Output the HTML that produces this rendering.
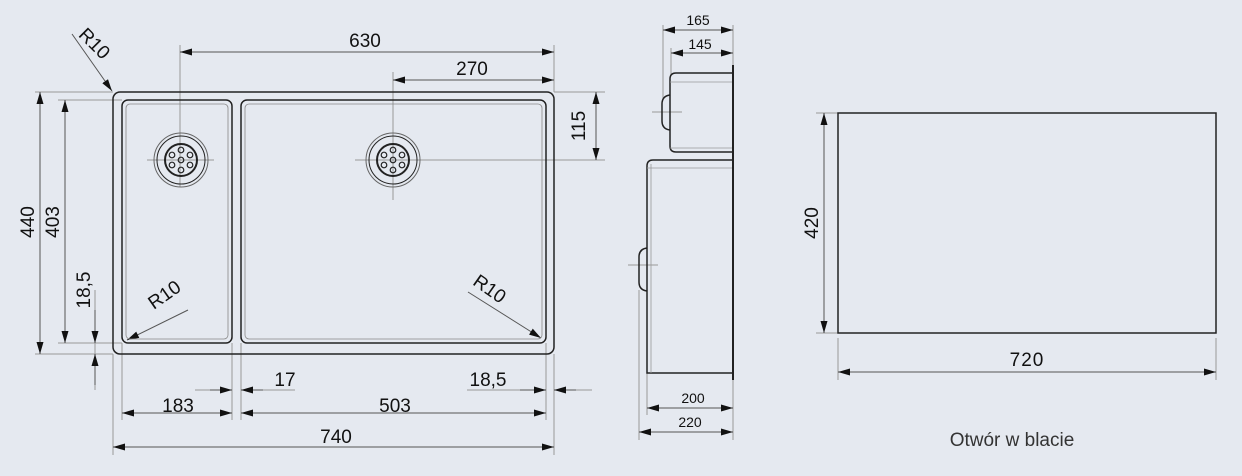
<!DOCTYPE html>
<html><head><meta charset="utf-8"><style>
html,body{margin:0;padding:0;background:#e5e9f0;}
svg{display:block}
text{font-family:"Liberation Sans",sans-serif;fill:#111;}
</style></head><body>
<svg width="1242" height="476" viewBox="0 0 1242 476" xmlns="http://www.w3.org/2000/svg">
<defs>
<marker id="a" viewBox="0 0 12 7" refX="12" refY="3.5" markerWidth="12" markerHeight="7" orient="auto-start-reverse" markerUnits="userSpaceOnUse"><path d="M0,0L12,3.5L0,7z" fill="#111"/></marker>
</defs>
<rect width="1242" height="476" fill="#e5e9f0"/>
<g stroke="#999" stroke-width="1" fill="none">
<line x1="180" y1="45" x2="180" y2="187"/>
<line x1="393" y1="72" x2="393" y2="200"/>
<line x1="355" y1="160" x2="605" y2="160"/>
<line x1="147" y1="160" x2="214" y2="160"/>
<line x1="554" y1="92" x2="605" y2="92"/>
<line x1="554" y1="45" x2="554" y2="92"/>
<line x1="35" y1="92" x2="113" y2="92"/>
<line x1="58" y1="100" x2="122" y2="100"/>
<line x1="58" y1="343" x2="122" y2="343"/>
<line x1="35" y1="354" x2="113" y2="354"/>
<line x1="95" y1="290" x2="95" y2="390"/>
<line x1="113" y1="354" x2="113" y2="455"/>
<line x1="122" y1="343" x2="122" y2="420"/>
<line x1="232" y1="343" x2="232" y2="420"/>
<line x1="241" y1="343" x2="241" y2="420"/>
<line x1="546" y1="343" x2="546" y2="420"/>
<line x1="554" y1="354" x2="554" y2="455"/>
<line x1="195" y1="390" x2="232" y2="390"/>
<line x1="241" y1="390" x2="295" y2="390"/>
<line x1="467" y1="390" x2="546" y2="390"/>
<line x1="554" y1="390" x2="592" y2="390"/>
<line x1="663" y1="25" x2="663" y2="100"/>
<line x1="671" y1="48" x2="671" y2="75"/>
<line x1="733" y1="25" x2="733" y2="65"/>
<line x1="647" y1="373" x2="647" y2="415"/>
<line x1="639" y1="290" x2="639" y2="440"/>
<line x1="733" y1="380" x2="733" y2="440"/>
<line x1="652" y1="112" x2="682" y2="112"/>
<line x1="628" y1="265" x2="658" y2="265"/>
<line x1="816" y1="113" x2="838" y2="113"/>
<line x1="816" y1="333" x2="838" y2="333"/>
<line x1="838" y1="338" x2="838" y2="380"/>
<line x1="1216" y1="338" x2="1216" y2="380"/>
</g>
<g stroke="#555" stroke-width="1" fill="none" marker-start="url(#a)" marker-end="url(#a)">
<line x1="180" y1="52" x2="554" y2="52"/>
<line x1="393" y1="80" x2="554" y2="80"/>
<line x1="596" y1="92" x2="596" y2="160"/>
<line x1="40" y1="92" x2="40" y2="354"/>
<line x1="65" y1="100" x2="65" y2="343"/>
<line x1="122" y1="413" x2="232" y2="413"/>
<line x1="241" y1="413" x2="546" y2="413"/>
<line x1="113" y1="447" x2="554" y2="447"/>
<line x1="663" y1="30" x2="733" y2="30"/>
<line x1="671" y1="53" x2="733" y2="53"/>
<line x1="647" y1="408" x2="733" y2="408"/>
<line x1="639" y1="432" x2="733" y2="432"/>
<line x1="824" y1="113" x2="824" y2="333"/>
<line x1="838" y1="372" x2="1216" y2="372"/>
</g>
<g stroke="#555" stroke-width="1" fill="none" marker-end="url(#a)">
<line x1="95" y1="310" x2="95" y2="343"/>
<line x1="95" y1="385" x2="95" y2="354"/>
<line x1="210" y1="390" x2="232" y2="390"/>
<line x1="263" y1="390" x2="241" y2="390"/>
<line x1="520" y1="390" x2="546" y2="390"/>
<line x1="576" y1="390" x2="554" y2="390"/>
<line x1="72" y1="34" x2="112" y2="91"/>
<line x1="188" y1="310" x2="127" y2="340"/>
<line x1="468" y1="292" x2="541" y2="338"/>
</g>
<g fill="none" stroke="#222">
<rect x="113" y="92" width="441" height="262" rx="7" stroke-width="1.5"/>
<rect x="122" y="100" width="110" height="243" rx="6" stroke-width="1.5"/>
<rect x="126" y="104" width="102" height="235" rx="4" stroke="#888" stroke-width="0.8"/>
<rect x="241" y="100" width="305" height="243" rx="6" stroke-width="1.5"/>
<rect x="245" y="104" width="297" height="235" rx="4" stroke="#888" stroke-width="0.8"/>
<g stroke-width="1">
<circle cx="181" cy="160" r="27" stroke="#666"/><circle cx="181" cy="160" r="24"/><circle cx="181" cy="160" r="16" stroke-width="2"/>
<circle cx="393" cy="160" r="27" stroke="#666"/><circle cx="393" cy="160" r="24"/><circle cx="393" cy="160" r="16" stroke-width="2"/>
</g>
<g stroke-width="1.2">
<circle cx="181" cy="160" r="2.8"/><circle cx="181" cy="150" r="2.8"/><circle cx="181" cy="170" r="2.8"/><circle cx="172" cy="155" r="2.8"/><circle cx="190" cy="155" r="2.8"/><circle cx="172" cy="165" r="2.8"/><circle cx="190" cy="165" r="2.8"/>
<circle cx="393" cy="160" r="2.8"/><circle cx="393" cy="150" r="2.8"/><circle cx="393" cy="170" r="2.8"/><circle cx="384" cy="155" r="2.8"/><circle cx="402" cy="155" r="2.8"/><circle cx="384" cy="165" r="2.8"/><circle cx="402" cy="165" r="2.8"/>
</g>
<path d="M733,73 H676 Q670,73 670,79 V146 Q670,152 676,152 H733" stroke-width="1.5"/>
<path d="M670,82 H733 M670,148 H733" stroke="#999" stroke-width="0.8"/>
<path d="M733,160 H653 Q647,160 647,166 V373 H733" stroke-width="1.5"/>
<path d="M651,164 V373 M647,168 H733" stroke="#999" stroke-width="0.8"/>
<line x1="733" y1="65" x2="733" y2="380" stroke-width="2"/>
<path d="M670,95 Q662,96 662,104 V121 Q662,129 670,130" stroke-width="1.5"/>
<path d="M647,248 Q639,249 639,257 V282 Q639,290 647,291" stroke-width="1.5"/>
<rect x="838" y="113" width="378" height="220" stroke-width="1.5"/>
</g>
<g font-size="19">
<text x="365" y="47" text-anchor="middle">630</text>
<text x="472" y="75" text-anchor="middle">270</text>
<text transform="translate(585,126) rotate(-90)" text-anchor="middle">115</text>
<text transform="translate(34,222) rotate(-90)" text-anchor="middle">440</text>
<text transform="translate(59,222) rotate(-90)" text-anchor="middle">403</text>
<text transform="translate(90,290) rotate(-90)" text-anchor="middle">18,5</text>
<text transform="translate(90,48) rotate(45)" text-anchor="middle">R10</text>
<text transform="translate(168,300) rotate(-35)" text-anchor="middle">R10</text>
<text transform="translate(486,294) rotate(35)" text-anchor="middle">R10</text>
<text x="285" y="386" text-anchor="middle">17</text>
<text x="488" y="386" text-anchor="middle">18,5</text>
<text x="178" y="412" text-anchor="middle">183</text>
<text x="395" y="412" text-anchor="middle">503</text>
<text x="336" y="443" text-anchor="middle">740</text>
<text transform="translate(818,223) rotate(-90)" text-anchor="middle">420</text>
<text x="1027" y="366" text-anchor="middle" letter-spacing="1">720</text>
</g>
<g font-size="14">
<text x="698" y="25" text-anchor="middle">165</text>
<text x="700" y="49" text-anchor="middle">145</text>
<text x="693" y="403" text-anchor="middle">200</text>
<text x="690" y="427" text-anchor="middle">220</text>
</g>
<text x="1012" y="446" text-anchor="middle" font-size="19" style="fill:#333">Otwór w blacie</text>
</svg>
</body></html>
